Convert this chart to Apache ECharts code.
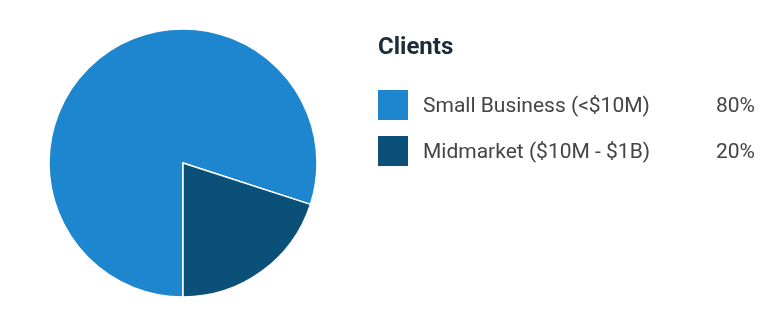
<!DOCTYPE html>
<html><head><meta charset="utf-8">
<script src="https://cdn.jsdelivr.net/npm/echarts@6/dist/echarts.min.js"></script>
<style>html,body{margin:0;padding:0;background:#fff}#c{width:781px;height:330px}</style>
</head><body><div id="c"></div>
<script>
const categories = ['Small Business (<$10M)', 'Midmarket ($10M - $1B)'];
const values = [80, 20];
const colors = ['#1e86cf', '#0a5079'];
const chartTitle = 'Clients';

const chart = echarts.init(document.getElementById('c'), null, {renderer: 'canvas'});
const total = values.reduce((a, b) => a + b, 0);
chart.setOption({
  animation: false,
  color: colors,
  title: {
    text: chartTitle, left: 378, top: 36, padding: 0,
    textStyle: {fontFamily: 'Roboto', fontSize: 24, fontWeight: 'bold', color: '#1c2b39'}
  },
  legend: {
    orient: 'vertical', left: 378, top: 88, padding: 0,
    itemWidth: 30, itemHeight: 30, itemGap: 12, icon: 'rect',
    itemStyle: {borderWidth: 0},
    selectedMode: false,
    data: categories,
    formatter: function (name) {
      const i = categories.indexOf(name);
      return '{n|' + name + '}{p|' + Math.round(values[i] / total * 100) + '%}';
    },
    textStyle: {
      fontFamily: 'Roboto', fontSize: 21, color: '#444', lineHeight: 30,
      padding: [4, 0, 0, 10],
      rich: {
        n: {fontFamily: 'Roboto', fontSize: 21, color: '#444', width: 290, lineHeight: 30},
        p: {fontFamily: 'Roboto', fontSize: 21, color: '#444', width: 42, align: 'right', lineHeight: 30}
      }
    }
  },
  series: [{
    type: 'pie',
    center: [183, 163], radius: 134,
    startAngle: 270, clockwise: true,
    label: {show: false}, labelLine: {show: false},
    itemStyle: {borderColor: '#fff', borderWidth: 1.5},
    emphasis: {disabled: true},
    data: categories.map((c, i) => ({name: c, value: values[i]}))
  }]
});
</script></body></html>
